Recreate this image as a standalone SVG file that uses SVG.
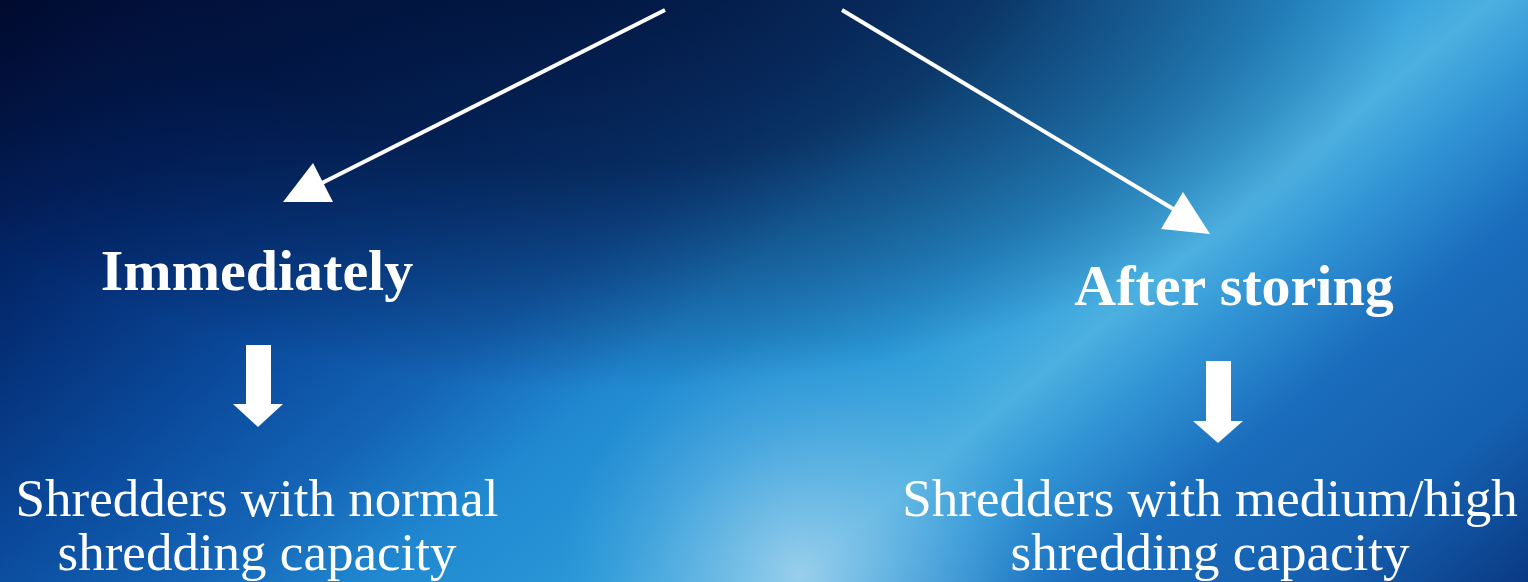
<svg xmlns="http://www.w3.org/2000/svg" width="1528" height="582" viewBox="0 0 1528 582">
<defs>
<linearGradient id="base" gradientUnits="userSpaceOnUse" x1="0" y1="0" x2="910" y2="1095">
<stop offset="0" stop-color="#000a30"/>
<stop offset="0.16" stop-color="#03286c"/>
<stop offset="0.3" stop-color="#0a4a9c"/>
<stop offset="0.4" stop-color="#1464b6"/>
<stop offset="0.48" stop-color="#2088d0"/>
<stop offset="0.58" stop-color="#2a98d8"/>
<stop offset="0.63" stop-color="#3aa4dc"/>
<stop offset="0.67" stop-color="#4cb0e0"/>
<stop offset="0.72" stop-color="#3296d6"/>
<stop offset="0.8" stop-color="#1a6cbc"/>
<stop offset="0.9" stop-color="#1560b0"/>
<stop offset="1" stop-color="#0a3a84"/>
</linearGradient>
<radialGradient id="dark" gradientUnits="userSpaceOnUse" cx="0" cy="0" r="1" gradientTransform="translate(600,-60) scale(820,450)">
<stop offset="0" stop-color="#000a2a" stop-opacity="0.8"/>
<stop offset="0.5" stop-color="#000a2a" stop-opacity="0.6"/>
<stop offset="0.8" stop-color="#000a2a" stop-opacity="0.25"/>
<stop offset="1" stop-color="#000a2a" stop-opacity="0"/>
</radialGradient>
<radialGradient id="glow" gradientUnits="userSpaceOnUse" cx="800" cy="575" r="240">
<stop offset="0" stop-color="#a6d4ee" stop-opacity="0.85"/>
<stop offset="0.55" stop-color="#80c2e8" stop-opacity="0.4"/>
<stop offset="1" stop-color="#5ab0e0" stop-opacity="0"/>
</radialGradient>
<style>
.conn{stroke:#fff;stroke-width:4;fill:none}
.head{fill:#fff}
.title{font-family:"Liberation Serif","Times New Roman",serif;font-weight:bold;font-size:58px;fill:#fff;text-anchor:middle}
.body{font-family:"Liberation Serif","Times New Roman",serif;font-size:53px;fill:#fff;text-anchor:middle}
</style>
</defs>
<rect width="1528" height="582" fill="url(#base)"/>
<rect width="1528" height="582" fill="url(#dark)"/>
<rect width="1528" height="582" fill="url(#glow)"/>
<g id="connectors">
<line class="conn" x1="665" y1="10" x2="322" y2="183"/>
<polygon class="head" points="313,163 283,202 333,202"/>
<line class="conn" x1="842" y1="10" x2="1175" y2="210"/>
<polygon class="head" points="1183,192 1161,229 1210,234"/>
<polygon class="head" points="246,345 271,345 271,404 283,404 258,427 233,404 246,404"/>
<polygon class="head" points="1206,361 1231,361 1231,421 1243,421 1218,443 1193,421 1206,421"/>
</g>
<g id="immediately"><text class="title" x="257" y="290">Immediately</text></g>
<g id="after-storing"><text class="title" x="1234" y="305">After storing</text></g>
<g id="normal"><text class="body" x="257" y="516">Shredders with normal</text><text class="body" x="257" y="570">shredding capacity</text></g>
<g id="high"><text class="body" x="1210" y="516">Shredders with medium/high</text><text class="body" x="1210" y="570">shredding capacity</text></g>
</svg>
